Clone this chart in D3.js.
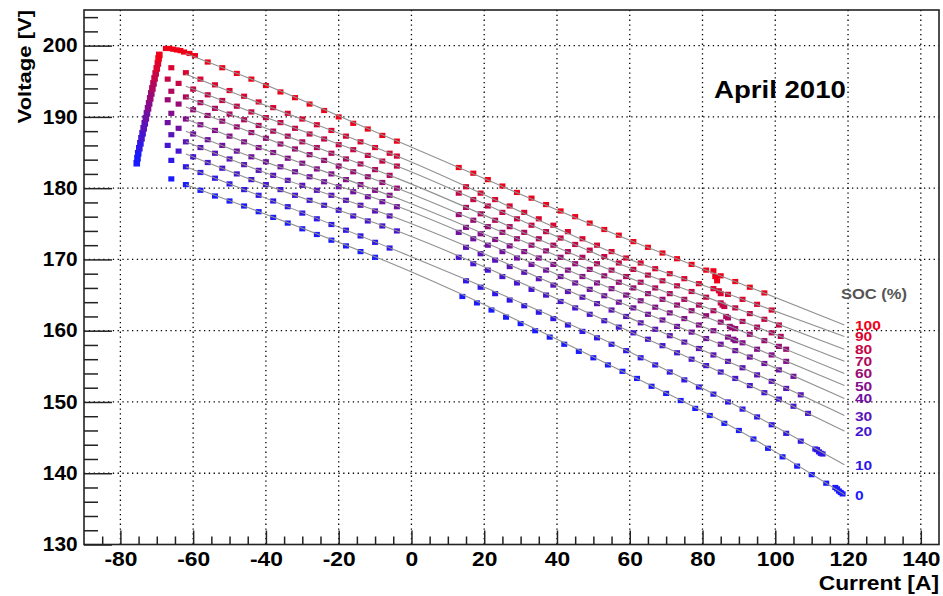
<!DOCTYPE html>
<html>
<head>
<meta charset="utf-8">
<script src="https://cdn.jsdelivr.net/npm/d3@7"></script>
<style>
  body { margin: 0; background: #fff; }
  svg { display: block; font-family: "Liberation Sans", Arial, Helvetica, sans-serif; font-weight: bold; }
</style>
</head>
<body>
<div id="chart"></div>
<script>
// state of charge levels (one fitted line per level)
const socLevels = [0, 10, 20, 30, 40, 50, 60, 70, 80, 90, 100];

// fitted line knots: currents shared, voltages per SOC level (same order as socLevels)
const lineCurrents = [-62, -44, -3, 60, 90, 119];
const lineVolts = [
  [180.5, 177.1, 168.9, 153.8, 146.0, 137.0],
  [183.0, 179.4, 171.0, 157.0, 149.3, 141.2],
  [184.8, 181.2, 173.8, 159.9, 153.0, 145.9],
  [186.5, 182.9, 175.6, 161.8, 155.0, 148.1],
  [188.0, 184.4, 177.3, 163.4, 157.0, 150.5],
  [189.7, 186.1, 178.4, 164.8, 158.5, 152.3],
  [191.4, 187.8, 179.8, 166.2, 160.1, 154.0],
  [192.8, 189.2, 181.2, 167.4, 161.5, 155.7],
  [194.3, 190.7, 182.9, 168.8, 163.0, 157.4],
  [196.0, 192.4, 184.3, 170.0, 164.6, 159.2],
  [198.9, 195.3, 186.4, 172.7, 166.7, 160.8]
];

// measured points [current A, voltage V]
const pts0 = [[-66,181.3],[-62,180.5],[-58,179.7],[-54,178.9],[-50,178.2],[-46,177.5],[-42,176.7],[-38,175.9],[-34,175.1],[-30,174.3],[-26,173.5],[-22,172.7],[-18,171.9],[-14,171.1],[-10,170.3],
  [14,164.8],[18,163.9],[22,162.9],[26,161.9],[30,161.0],[34,160.0],[38,159.1],[42,158.1],[46,157.1],[50,156.2],[54,155.2],[58,154.3],[62,153.3],[66,152.2],[70,151.2],[74,150.2],[78,149.1],[82,148.1],[86,147.0],[90,146.0],[94,144.8],[98,143.5],[102,142.3],[106,141.0],[110,139.8],[114,138.6],[116.5,138.0],[117,137.8],[117.5,137.5],[118,137.3],[118.5,137.1]];
const pts10 = [[-66,183.9],[-62,183.0],[-58,182.2],[-54,181.4],[-50,180.6],[-46,179.8],[-42,179.0],[-38,178.2],[-34,177.4],[-30,176.5],[-26,175.7],[-22,174.9],[-18,174.1],[-14,173.3],[-10,172.4],[-6,171.6],
  [15,167.0],[19,166.1],[23,165.2],[27,164.3],[31,163.5],[35,162.6],[39,161.7],[43,160.8],[47,159.9],[51,159.0],[55,158.1],[59,157.2],[63,156.2],[67,155.2],[71,154.2],[75,153.1],[79,152.1],[83,151.1],[87,150.0],[91,149.0],[95,147.9],[99,146.8],[103,145.6],[107,144.5],[111,143.4],[111.5,143.3],[112,143.0],[112.5,142.8],[113,142.7]];
const pts20 = [[-67,186.0],[-64,185.2],[-60,184.4],[-56,183.6],[-52,182.8],[-48,182.0],[-44,181.2],[-40,180.5],[-36,179.8],[-32,179.0],[-28,178.3],[-24,177.6],[-20,176.9],[-16,176.1],[-12,175.4],[-8,174.7],[-4,174.0],
  [13,170.3],[17,169.4],[21,168.5],[25,167.6],[29,166.7],[33,165.8],[37,165.0],[41,164.1],[45,163.2],[49,162.3],[53,161.4],[57,160.5],[61,159.7],[65,158.8],[69,157.9],[73,156.9],[77,156.0],[81,155.1],[85,154.2],[89,153.3],[93,152.3],[97,151.3],[101,150.4],[105,149.4],[109,148.4]];
const pts30 = [[-66,187.5],[-62,186.5],[-58,185.7],[-54,184.9],[-50,184.1],[-46,183.3],[-42,182.5],[-38,181.8],[-34,181.1],[-30,180.4],[-26,179.7],[-22,179.0],[-18,178.3],[-14,177.6],[-10,176.8],[-6,176.1],
  [15,171.7],[19,170.8],[23,169.9],[27,169.0],[31,168.2],[35,167.3],[39,166.4],[43,165.5],[47,164.7],[51,163.8],[55,162.9],[59,162.0],[63,161.1],[67,160.2],[71,159.3],[75,158.4],[79,157.5],[83,156.6],[87,155.7],[91,154.8],[95,153.8],[99,152.9],[103,151.9],[107,151.0]];
const pts40 = [[-67,189.2],[-64,188.4],[-60,187.6],[-56,186.8],[-52,186.0],[-48,185.2],[-44,184.4],[-40,183.7],[-36,183.0],[-32,182.3],[-28,181.6],[-24,180.9],[-20,180.2],[-16,179.5],[-12,178.8],[-8,178.1],[-4,177.4],
  [13,173.8],[17,172.9],[21,172.0],[25,171.1],[29,170.2],[33,169.3],[37,168.5],[41,167.6],[45,166.7],[49,165.8],[53,164.9],[57,164.0],[61,163.2],[65,162.3],[69,161.5],[73,160.6],[77,159.8],[81,158.9],[85,158.1],[89,157.2],[93,156.3],[97,155.4],[101,154.5],[105,153.6]];
const pts50 = [[-66,190.5],[-62,189.7],[-58,188.9],[-54,188.1],[-50,187.3],[-46,186.5],[-42,185.7],[-38,185.0],[-34,184.2],[-30,183.5],[-26,182.7],[-22,182.0],[-18,181.2],[-14,180.5],[-10,179.7],[-6,179.0],
  [15,174.5],[19,173.6],[23,172.8],[27,171.9],[31,171.1],[35,170.2],[39,169.3],[43,168.5],[47,167.6],[51,166.7],[55,165.9],[59,165.0],[63,164.2],[67,163.3],[71,162.5],[75,161.7],[79,160.8],[83,160.0],[87,159.1],[88.5,158.8],[89,158.6],[91,158.3],[95,157.4],[99,156.6],[103,155.7]];
const pts60 = [[-67,192.4],[-64,191.8],[-60,191.0],[-56,190.2],[-52,189.4],[-48,188.6],[-44,187.8],[-40,187.0],[-36,186.2],[-32,185.5],[-28,184.7],[-24,183.9],[-20,183.1],[-16,182.3],[-12,181.6],[-8,180.8],[-4,180.0],
  [13,176.3],[17,175.5],[21,174.6],[25,173.8],[29,172.9],[33,172.0],[37,171.2],[41,170.3],[45,169.4],[49,168.6],[53,167.7],[57,166.8],[61,166.0],[65,165.2],[69,164.4],[73,163.6],[77,162.8],[81,162.1],[85,161.2],[87.5,160.6],[88,160.4],[89,160.3],[93,159.5],[97,158.6],[101,157.8],[103,157.4]];
const pts70 = [[-66,193.6],[-62,192.8],[-58,192.0],[-54,191.2],[-50,190.4],[-46,189.6],[-42,188.8],[-38,188.0],[-34,187.3],[-30,186.5],[-26,185.7],[-22,184.9],[-18,184.1],[-14,183.4],[-10,182.6],[-6,181.8],
  [15,177.3],[19,176.4],[23,175.5],[27,174.6],[31,173.8],[35,172.9],[39,172.0],[43,171.1],[47,170.3],[51,169.4],[55,168.5],[59,167.6],[63,166.8],[67,166.0],[71,165.2],[75,164.4],[79,163.6],[83,162.8],[86.5,162.0],[87,161.8],[91,161.3],[95,160.5],[99,159.7],[101.5,159.2]];
const pts80 = [[-67,195.3],[-64,194.7],[-60,193.9],[-56,193.1],[-52,192.3],[-48,191.5],[-44,190.7],[-40,189.9],[-36,189.2],[-32,188.4],[-28,187.6],[-24,186.9],[-20,186.1],[-16,185.4],[-12,184.6],[-8,183.8],[-4,183.1],
  [13,179.3],[17,178.4],[21,177.5],[25,176.6],[29,175.7],[33,174.8],[37,173.9],[41,173.0],[45,172.1],[49,171.3],[53,170.4],[57,169.5],[61,168.6],[65,167.8],[69,167.0],[73,166.3],[77,165.5],[81,164.7],[85,163.9],[85.5,163.6],[86,163.4],[89,163.2],[93,162.4],[97,161.6],[101,160.8]];
const pts90 = [[-66,196.9],[-62,196.2],[-58,195.3],[-54,194.5],[-50,193.7],[-46,192.9],[-42,192.1],[-38,191.3],[-34,190.5],[-30,189.7],[-26,188.9],[-22,188.1],[-18,187.3],[-14,186.5],[-10,185.7],[-6,184.9],[-4,184.5],
  [15,180.2],[19,179.3],[23,178.4],[27,177.5],[31,176.6],[35,175.7],[39,174.8],[43,173.9],[47,172.9],[51,172.0],[55,171.1],[59,170.2],[63,169.5],[67,168.7],[71,168.0],[75,167.3],[79,166.6],[83,165.9],[84.5,165.6],[85,165.2],[87,165.1],[91,164.4],[95,163.7],[99,162.9]];
const pts100 = [[-67.5,199.6],[-66.5,199.6],[-65.5,199.5],[-64.5,199.4],[-63.5,199.3],[-62.5,199.1],[-61,198.9],[-59.5,198.6],
  [-56,197.7],[-52,196.9],[-48,196.1],[-44,195.3],[-40,194.4],[-36,193.5],[-32,192.7],[-28,191.8],[-24,190.9],[-20,190.0],[-16,189.1],[-12,188.3],[-8,187.4],[-4,186.6],
  [13,182.9],[17,182.1],[21,181.2],[25,180.3],[29,179.4],[33,178.6],[37,177.7],[41,176.8],[45,176.0],[49,175.1],[53,174.2],[57,173.4],[61,172.5],[65,171.7],[69,170.9],[73,170.1],[77,169.3],[81,168.5],[83,168.4],[83.5,167.6],[84,167.0],[85,167.7],[89,166.9],[93,166.1],[97,165.3]];
const socPoints = [pts0, pts10, pts20, pts30, pts40, pts50, pts60, pts70, pts80, pts90, pts100];

// peak charging points at the far left [soc, current, voltage]
const chargePeak = [[0,-75.5,183.5],[0,-75.3,184.2],[0,-75.1,184.9],[10,-74.8,185.6],[10,-74.5,186.3],[20,-74.2,187.0],[20,-73.9,187.7],
  [30,-73.6,188.4],[30,-73.3,189.1],[40,-73.0,189.8],[40,-72.7,190.5],[50,-72.4,191.2],[50,-72.1,191.9],[60,-71.8,192.6],[60,-71.5,193.3],
  [70,-71.2,194.0],[70,-70.9,194.7],[80,-70.6,195.4],[80,-70.3,196.1],[90,-70.0,196.8],[90,-69.7,197.5],[100,-69.5,198.2],[100,-69.3,198.7]];

const xMajor = [-80, -60, -40, -20, 0, 20, 40, 60, 80, 100, 120, 140];
const yMajor = [130, 140, 150, 160, 170, 180, 190, 200];

const w = 943;
const h = 596;
const fr = { left: 84, right: 939, top: 10, bottom: 544.5 };

const x = d3.scaleLinear().domain([-90, 145]).range([fr.left, fr.right]);
const y = d3.scaleLinear().domain([130, 205]).range([fr.bottom, fr.top]);
const color = d3.scaleLinear().domain([0, 100]).range(['#1a1aff', '#f00018']).interpolate(d3.interpolateRgb);

const svg = d3.select('#chart').append('svg').attr('width', w).attr('height', h);
svg.append('rect').attr('width', w).attr('height', h).attr('fill', '#fff');

// dotted grid
svg.append('g').selectAll('line').data(xMajor).join('line')
  .attr('x1', d => x(d)).attr('x2', d => x(d))
  .attr('y1', fr.top).attr('y2', fr.bottom)
  .attr('stroke', '#000').attr('stroke-width', 1.3).attr('stroke-dasharray', '1.3,3.5');
svg.append('g').selectAll('line').data(yMajor.filter(v => v > 130)).join('line')
  .attr('x1', fr.left).attr('x2', fr.right)
  .attr('y1', d => y(d)).attr('y2', d => y(d))
  .attr('stroke', '#000').attr('stroke-width', 1.3).attr('stroke-dasharray', '1.3,3.5');

// markers
const marks = svg.append('g');
socPoints.forEach((pts, i) => {
  marks.selectAll(null).data(pts).join('rect')
    .attr('x', d => x(d[0]) - 3).attr('y', d => y(d[1]) - 2.6)
    .attr('width', 6).attr('height', 5.2)
    .attr('fill', color(socLevels[i]));
});
marks.selectAll(null).data(chargePeak).join('rect')
  .attr('x', d => x(d[1]) - 3.3).attr('y', d => y(d[2]) - 3.3)
  .attr('width', 6.6).attr('height', 6.6)
  .attr('fill', d => color(d[0]));

// fitted lines
const line = d3.line().x(d => x(d[0])).y(d => y(d[1])).curve(d3.curveMonotoneX);
svg.append('g').selectAll('path').data(lineVolts).join('path')
  .attr('d', vs => line(vs.map((v, k) => [lineCurrents[k], v])))
  .attr('fill', 'none').attr('stroke', '#909090').attr('stroke-width', 1.1);

// axes (ticks inside the frame)
function styleAxis(g, sx) {
  g.select('.domain').remove();
  g.selectAll('line').attr('stroke', '#222').attr('stroke-width', 1.5);
  g.selectAll('text').attr('font-size', 19.5).attr('font-family', null)
    .attr('fill', '#000').attr('transform', `scale(${sx},1)`);
}
const plain = d => String(d);
const xAxis = d3.axisBottom(x).tickValues(xMajor).tickSizeInner(-14).tickSizeOuter(0).tickPadding(8).tickFormat(plain);
const xMinor = d3.axisBottom(x).tickValues(d3.range(-85, 141, 5).filter(v => v % 20 !== 0)).tickSizeInner(-8).tickSizeOuter(0).tickFormat('');
svg.append('g').attr('transform', `translate(0,${fr.bottom})`).call(xAxis).call(g => styleAxis(g, 1.17));
svg.append('g').attr('transform', `translate(0,${fr.bottom})`).call(xMinor).call(g => styleAxis(g, 1));
const yAxis = d3.axisLeft(y).tickValues(yMajor).tickSizeInner(-28).tickSizeOuter(0).tickPadding(6).tickFormat(plain);
const yMinor = d3.axisLeft(y).tickValues(d3.range(130, 205, 2).filter(v => v % 10 !== 0)).tickSizeInner(-14).tickSizeOuter(0).tickFormat('');
svg.append('g').attr('transform', `translate(${fr.left},0)`).call(yAxis).call(g => styleAxis(g, 1.07));
svg.append('g').attr('transform', `translate(${fr.left},0)`).call(yMinor).call(g => styleAxis(g, 1));

// frame
svg.append('rect')
  .attr('x', fr.left).attr('y', fr.top)
  .attr('width', fr.right - fr.left).attr('height', fr.bottom - fr.top)
  .attr('fill', 'none').attr('stroke', '#222').attr('stroke-width', 1.6);

// texts
function addText(str, tx, ty, size, sx, anchor, fill, rot) {
  const g = svg.append('g').attr('transform', `translate(${tx},${ty})` + (rot ? ` rotate(${rot})` : ''));
  g.append('text').text(str)
    .attr('font-size', size).attr('text-anchor', anchor).attr('fill', fill)
    .attr('transform', `scale(${sx},1)`);
}
addText('Voltage [V]', 31, 10, 19, 1.16, 'end', '#000', -90);
addText('Current [A]', 939, 590, 20, 1.14, 'end', '#000');
addText('April 2010', 714, 97.5, 23, 1.2, 'start', '#000');
addText('SOC (%)', 841, 299, 15, 1.1, 'start', '#555');
lineVolts.forEach((vs, i) => {
  addText(String(socLevels[i]), 855, y(vs[vs.length - 1]) + 5, 13.5, 1.15, 'start', color(socLevels[i]));
});
</script>
</body>
</html>
